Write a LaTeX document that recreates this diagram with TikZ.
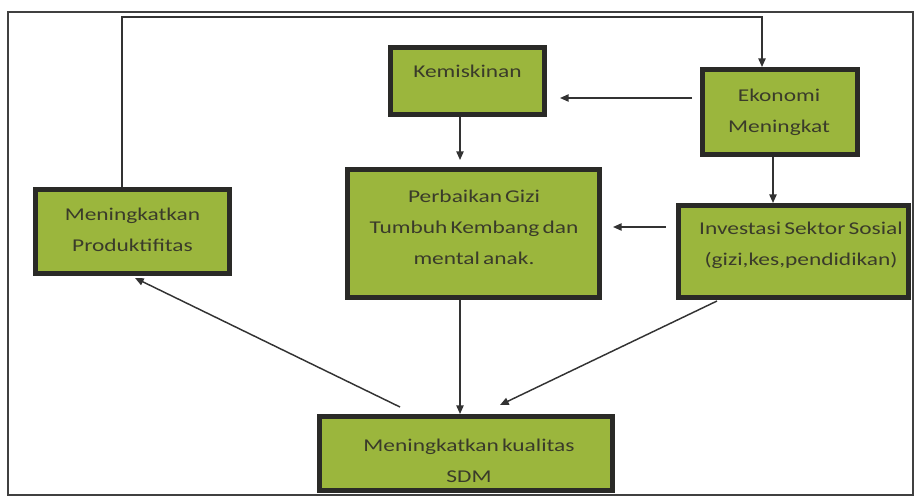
\documentclass[tikz,border=0pt]{standalone}
\usepackage{fontspec}
\setmainfont{Carlito}[FakeStretch=1.3,WordSpace=0.6]
\usetikzlibrary{arrows.meta}
\definecolor{boxfill}{HTML}{9BB63D}
\definecolor{boxline}{HTML}{2A2A27}
\definecolor{txtcol}{HTML}{3A3B2A}
\definecolor{arrcol}{HTML}{333333}
\tikzset{
  box/.style={draw=boxline, line width=3.75pt, fill=boxfill, inner sep=0pt},
  txt/.style={text=txtcol, align=center, inner sep=0pt,
    font=\fontsize{13.5pt}{23.25pt}\selectfont},
  arr/.style={draw=arrcol, line width=1.1pt, -{Triangle[length=6.5pt,width=5.5pt]}},
  frame/.style={draw=black!75, line width=0.9pt}
}
\begin{document}
\begin{tikzpicture}[x=0.75pt,y=-0.75pt]
\useasboundingbox (0,0) rectangle (914,497);
% outer frame
\draw[frame] (8,12) rectangle (913,495);
% boxes
\node[box, minimum width=115.5pt, minimum height=50.25pt] (kem) at (467.5,81) {};
\node[box, minimum width=116.25pt, minimum height=63.75pt] (eko) at (780,112) {};
\node[box, minimum width=145.5pt, minimum height=63pt] (prod) at (132.5,231.5) {};
\node[box, minimum width=189pt, minimum height=96pt] (perb) at (473.5,233.5) {};
\node[box, minimum width=172.5pt, minimum height=69pt] (inv) at (793,251.5) {};
\node[box, minimum width=219.75pt, minimum height=55.5pt] (sdm) at (466,453.5) {};
% texts
\node[txt, anchor=base] (kemT) at (467.5,77) {Kemiskinan};
\node[txt] (ekoT) at (779,112) {Ekonomi\\Meningkat};
\node[txt] (prodT) at (132.5,229.5) {Meningkatkan\\Produktifitas};
\node[txt] (perbT) at (474,227) {Perbaikan Gizi\\Tumbuh Kembang dan\\mental anak.};
\node[txt] (invT) at (801,245.5) {Investasi Sektor Sosial\\(gizi,kes,pendidikan)};
\node[txt] (sdmT) at (469,460.5) {Meningkatkan kualitas\\SDM};
% helper coordinates
\coordinate (loopL) at (122,17);
\coordinate (loopR) at (762,17);
\coordinate (ekA) at (692,98);
\coordinate (kpX) at (460,0);
\coordinate (eiX) at (773,0);
\coordinate (ipY) at (0,227);
\coordinate (invS) at (717,301);
\coordinate (sdmInvTip) at (500,405);
\coordinate (sdmL) at (400,407);
\coordinate (prodTip) at (135,278);
% connectors
\draw[arr] (prod.north -| loopL) -- (loopL) -- (loopR) -- (loopR |- eko.north);
\draw[arr, shorten >=9.75pt] (ekA) -- (kem.east |- ekA);
\draw[arr, shorten >=5.25pt] (kem.south -| kpX) -- (perb.north -| kpX);
\draw[arr] (eko.south -| eiX) -- (inv.north -| eiX);
\draw[arr, shorten <=7.5pt, shorten >=8.25pt] (inv.west |- ipY) -- (perb.east |- ipY);
\draw[arr] (perb.south -| kpX) -- (sdm.north -| kpX);
\draw[arr] (invS) -- (sdmInvTip);
\draw[arr] (sdmL) -- (prodTip);
\end{tikzpicture}
\end{document}
